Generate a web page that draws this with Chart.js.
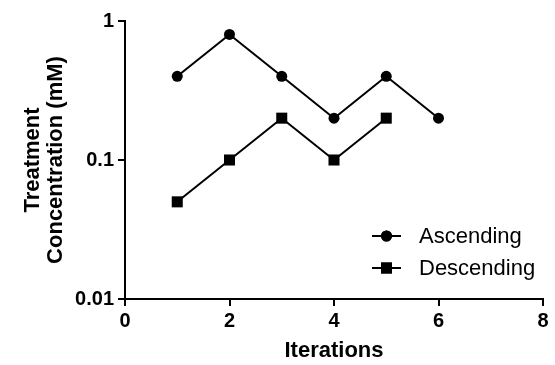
<!DOCTYPE html>
<html><head><meta charset="utf-8">
<script src="https://cdn.jsdelivr.net/npm/chart.js@4"></script>
<style>html,body{margin:0;padding:0;background:#fff}#wrap{width:555px;height:365px}</style>
</head><body><div id="wrap"><canvas id="c" width="555" height="365"></canvas></div>
<script>
const ascX = [1, 2, 3, 4, 5, 6];
const ascY = [0.4, 0.8, 0.4, 0.2, 0.4, 0.2];
const descX = [1, 2, 3, 4, 5];
const descY = [0.05, 0.1, 0.2, 0.1, 0.2];
const yTicks = [0.01, 0.1, 1];
const yTickLabels = ['0.01', '0.1', '1'];
const xTicks = [0, 2, 4, 6, 8];
const seriesNames = ['Ascending', 'Descending'];

const FONT = "'Liberation Sans', Arial, sans-serif";

const legendPlugin = {
  id: 'insideLegend',
  afterDraw(chart) {
    const ctx = chart.ctx;
    const ys = [236, 268];
    chart.data.datasets.forEach((ds, i) => {
      const y = ys[i];
      ctx.save();
      ctx.strokeStyle = '#000'; ctx.lineWidth = 2;
      ctx.beginPath(); ctx.moveTo(372, y); ctx.lineTo(401, y); ctx.stroke();
      ctx.fillStyle = '#000';
      Chart.helpers.drawPoint(ctx, {pointStyle: ds.pointStyle, radius: ds.pointRadius, borderWidth: 0}, 386.5, y);
      ctx.fill();
      ctx.font = "22px " + FONT;
      ctx.textBaseline = 'middle';
      ctx.fillText(ds.label, 419, y + 1);
      ctx.restore();
    });
  }
};

new Chart(document.getElementById('c'), {
  type: 'line',
  data: {
    datasets: [
      {label: seriesNames[0], data: ascX.map((x, i) => ({x, y: ascY[i]})), borderColor: '#000', backgroundColor: '#000', borderWidth: 2, pointStyle: 'circle', pointRadius: 5.5, pointBorderWidth: 0, tension: 0},
      {label: seriesNames[1], data: descX.map((x, i) => ({x, y: descY[i]})), borderColor: '#000', backgroundColor: '#000', borderWidth: 2, pointStyle: 'rect', pointRadius: 7.8, pointBorderWidth: 0, tension: 0}
    ]
  },
  options: {
    responsive: false,
    animation: false,
    layout: {padding: {left: 0, top: 21, right: 12, bottom: 0}},
    plugins: {legend: {display: false}, tooltip: {enabled: false}},
    scales: {
      x: {
        type: 'linear', min: 0, max: 8,
        afterBuildTicks(s) { s.ticks = xTicks.map(v => ({value: v})); },
        afterFit(s) { s.height = 66; },
        grid: {display: true, drawOnChartArea: false, drawTicks: true, tickLength: 7, color: '#000', lineWidth: 2},
        border: {display: true, color: '#000', width: 2},
        ticks: {color: '#000', font: {family: FONT, size: 20, weight: 'bold'}, padding: 3, maxRotation: 0},
        title: {display: true, text: 'Iterations', color: '#000', font: {family: FONT, size: 22, weight: 'bold', lineHeight: 1.2}, padding: {top: 0, bottom: 1}}
      },
      y: {
        type: 'logarithmic', min: 0.01, max: 1,
        afterBuildTicks(s) { s.ticks = yTicks.map(v => ({value: v})); },
        afterFit(s) { s.width = 125; },
        grid: {display: true, drawOnChartArea: false, drawTicks: true, tickLength: 7, color: '#000', lineWidth: 2},
        border: {display: true, color: '#000', width: 2},
        ticks: {color: '#000', font: {family: FONT, size: 20, weight: 'bold'}, padding: 4,
          callback: (v) => { const i = yTicks.indexOf(v); return i >= 0 ? yTickLabels[i] : ''; }},
        title: {display: true, text: ['Treatment', 'Concentration (mM)'], color: '#000', font: {family: FONT, size: 22, weight: 'bold', lineHeight: 1.05}, padding: {top: 21, bottom: 0}}
      }
    }
  },
  plugins: [legendPlugin]
});
</script>
</body></html>
